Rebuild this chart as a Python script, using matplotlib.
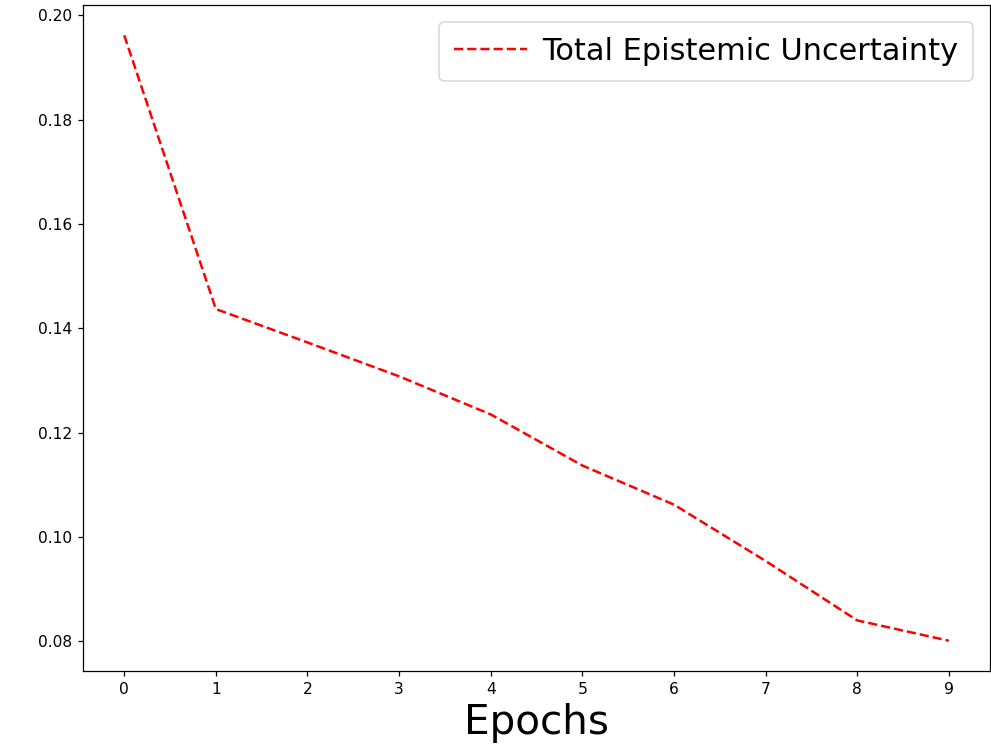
import numpy as np
import matplotlib
matplotlib.use("Agg")
import matplotlib.pyplot as plt

epochs = list(range(10))
uncertainty = [0.1962, 0.1437, 0.1373, 0.1308, 0.1235, 0.1137, 0.1062, 0.0954, 0.0840, 0.0801]

dpi = 112
fig = plt.figure(figsize=(991 / dpi, 751 / dpi), dpi=dpi)
ax = fig.add_axes([83 / 991, 80 / 751, 907 / 991, 666 / 751])
ax.plot(epochs, uncertainty, "r--", lw=1.6, label="Total Epistemic Uncertainty")
ax.set_xticks(epochs)
ax.set_xlabel("Epochs", fontsize=26)
ax.legend(fontsize=19.5, handlelength=2.4, handletextpad=0.5,
          borderaxespad=0.55, borderpad=0.5)
fig.savefig("out.png", dpi=dpi)
